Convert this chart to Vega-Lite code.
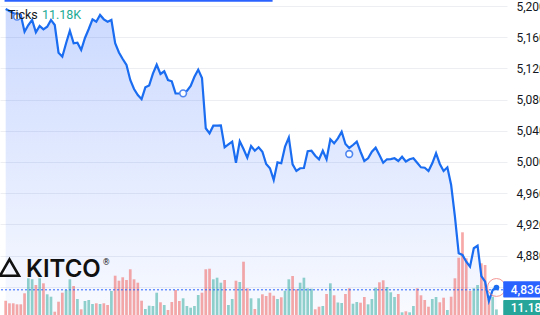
{
  "$schema": "https://vega.github.io/schema/vega-lite/v6.json",
  "width": 507,
  "height": 315,
  "autosize": {"type": "none"},
  "padding": {"left": 0, "top": 0, "right": 33, "bottom": 0},
  "background": "white",
  "config": {"view": {"stroke": null}, "font": "Roboto"},
  "datasets": {
    "ticks": [
      {"i":0,"price":5196.2,"vol":28.6,"dir":"d"},
      {"i":1,"price":5193.6,"vol":23.4,"dir":"d"},
      {"i":2,"price":5191.0,"vol":23.4,"dir":"d"},
      {"i":3,"price":5189.1,"vol":21.4,"dir":"d"},
      {"i":4,"price":5188.5,"vol":21.4,"dir":"d"},
      {"i":5,"price":5167.0,"vol":43.4,"dir":"d"},
      {"i":6,"price":5175.6,"vol":73.4,"dir":"u"},
      {"i":7,"price":5182.1,"vol":71.4,"dir":"u"},
      {"i":8,"price":5166.3,"vol":60,"dir":"d"},
      {"i":9,"price":5174.4,"vol":73.4,"dir":"u"},
      {"i":10,"price":5170.1,"vol":63.4,"dir":"d"},
      {"i":11,"price":5173.5,"vol":41.4,"dir":"u"},
      {"i":12,"price":5182.1,"vol":36.6,"dir":"u"},
      {"i":13,"price":5175.6,"vol":6.6,"dir":"d"},
      {"i":14,"price":5140.1,"vol":26.6,"dir":"d"},
      {"i":15,"price":5135.0,"vol":44.6,"dir":"d"},
      {"i":16,"price":5152.2,"vol":50,"dir":"u"},
      {"i":17,"price":5168.3,"vol":71.4,"dir":"u"},
      {"i":18,"price":5152.2,"vol":58,"dir":"d"},
      {"i":19,"price":5152.9,"vol":32,"dir":"u"},
      {"i":20,"price":5143.6,"vol":11.4,"dir":"d"},
      {"i":21,"price":5159.0,"vol":28,"dir":"u"},
      {"i":22,"price":5170.5,"vol":30,"dir":"u"},
      {"i":23,"price":5182.9,"vol":22,"dir":"u"},
      {"i":24,"price":5179.9,"vol":23.4,"dir":"d"},
      {"i":25,"price":5188.5,"vol":22,"dir":"u"},
      {"i":26,"price":5182.9,"vol":23.4,"dir":"d"},
      {"i":27,"price":5179.9,"vol":20,"dir":"d"},
      {"i":28,"price":5182.1,"vol":48,"dir":"u"},
      {"i":29,"price":5152.2,"vol":78.6,"dir":"d"},
      {"i":30,"price":5140.4,"vol":68.6,"dir":"d"},
      {"i":31,"price":5132.0,"vol":75.4,"dir":"d"},
      {"i":32,"price":5124.3,"vol":70,"dir":"d"},
      {"i":33,"price":5105.1,"vol":91.4,"dir":"d"},
      {"i":34,"price":5093.6,"vol":71.4,"dir":"d"},
      {"i":35,"price":5085.9,"vol":64.6,"dir":"d"},
      {"i":36,"price":5080.5,"vol":28.6,"dir":"d"},
      {"i":37,"price":5095.7,"vol":12,"dir":"u"},
      {"i":38,"price":5098.0,"vol":18.6,"dir":"u"},
      {"i":39,"price":5113.2,"vol":18,"dir":"u"},
      {"i":40,"price":5124.7,"vol":44.6,"dir":"u"},
      {"i":41,"price":5112.8,"vol":25.4,"dir":"d"},
      {"i":42,"price":5116.3,"vol":20,"dir":"u"},
      {"i":43,"price":5105.1,"vol":10,"dir":"d"},
      {"i":44,"price":5103.4,"vol":26,"dir":"d"},
      {"i":45,"price":5088.0,"vol":50,"dir":"d"},
      {"i":46,"price":5087.8,"vol":28,"dir":"d"},
      {"i":47,"price":5088.0,"vol":33.4,"dir":"u"},
      {"i":48,"price":5091.0,"vol":18,"dir":"u"},
      {"i":49,"price":5097.4,"vol":14.6,"dir":"u"},
      {"i":50,"price":5109.3,"vol":18,"dir":"u"},
      {"i":51,"price":5118.4,"vol":40,"dir":"u"},
      {"i":52,"price":5107.7,"vol":44.6,"dir":"d"},
      {"i":53,"price":5043.2,"vol":91.4,"dir":"d"},
      {"i":54,"price":5036.7,"vol":92.6,"dir":"d"},
      {"i":55,"price":5046.5,"vol":71.4,"dir":"u"},
      {"i":56,"price":5046.6,"vol":74.6,"dir":"u"},
      {"i":57,"price":5046.9,"vol":64.6,"dir":"u"},
      {"i":58,"price":5018.8,"vol":70,"dir":"d"},
      {"i":59,"price":5022.4,"vol":20,"dir":"u"},
      {"i":60,"price":5026.0,"vol":32,"dir":"u"},
      {"i":61,"price":4999.0,"vol":68.6,"dir":"d"},
      {"i":62,"price":5026.5,"vol":66,"dir":"u"},
      {"i":63,"price":5016.6,"vol":106.6,"dir":"d"},
      {"i":64,"price":5005.5,"vol":53.4,"dir":"d"},
      {"i":65,"price":5020.5,"vol":33.4,"dir":"u"},
      {"i":66,"price":5014.4,"vol":12,"dir":"d"},
      {"i":67,"price":5018.8,"vol":33.4,"dir":"u"},
      {"i":68,"price":5013.1,"vol":41.4,"dir":"d"},
      {"i":69,"price":4997.4,"vol":38,"dir":"d"},
      {"i":70,"price":4991.9,"vol":44.6,"dir":"d"},
      {"i":71,"price":4976.9,"vol":38.6,"dir":"d"},
      {"i":72,"price":4999.5,"vol":32,"dir":"u"},
      {"i":73,"price":4998.3,"vol":35.4,"dir":"d"},
      {"i":74,"price":5019.6,"vol":48.6,"dir":"u"},
      {"i":75,"price":5031.1,"vol":71.4,"dir":"u"},
      {"i":76,"price":4997.0,"vol":78,"dir":"d"},
      {"i":77,"price":4988.4,"vol":51.4,"dir":"d"},
      {"i":78,"price":4991.9,"vol":64.6,"dir":"u"},
      {"i":79,"price":4992.2,"vol":74.6,"dir":"u"},
      {"i":80,"price":5013.7,"vol":53.4,"dir":"u"},
      {"i":81,"price":5014.4,"vol":52.6,"dir":"u"},
      {"i":82,"price":5008.0,"vol":11.4,"dir":"d"},
      {"i":83,"price":5003.4,"vol":16.6,"dir":"d"},
      {"i":84,"price":5014.4,"vol":18,"dir":"u"},
      {"i":85,"price":5003.4,"vol":42,"dir":"d"},
      {"i":86,"price":5029.1,"vol":63.4,"dir":"u"},
      {"i":87,"price":5023.9,"vol":39.4,"dir":"d"},
      {"i":88,"price":5030.3,"vol":25,"dir":"u"},
      {"i":89,"price":5038.8,"vol":24,"dir":"u"},
      {"i":90,"price":5023.0,"vol":42,"dir":"d"},
      {"i":91,"price":5017.9,"vol":53.4,"dir":"d"},
      {"i":92,"price":5021.7,"vol":22.6,"dir":"u"},
      {"i":93,"price":5026.0,"vol":26,"dir":"u"},
      {"i":94,"price":5013.1,"vol":24.6,"dir":"d"},
      {"i":95,"price":5001.2,"vol":36,"dir":"d"},
      {"i":96,"price":5004.7,"vol":21.4,"dir":"u"},
      {"i":97,"price":5013.1,"vol":32,"dir":"u"},
      {"i":98,"price":5018.3,"vol":54.6,"dir":"u"},
      {"i":99,"price":5008.9,"vol":65.4,"dir":"d"},
      {"i":100,"price":4999.0,"vol":69.4,"dir":"d"},
      {"i":101,"price":5003.4,"vol":56,"dir":"u"},
      {"i":102,"price":5003.6,"vol":45.4,"dir":"u"},
      {"i":103,"price":5004.7,"vol":36,"dir":"u"},
      {"i":104,"price":5001.2,"vol":42,"dir":"d"},
      {"i":105,"price":5006.7,"vol":5.4,"dir":"u"},
      {"i":106,"price":5000.6,"vol":7.4,"dir":"d"},
      {"i":107,"price":5003.4,"vol":5.4,"dir":"u"},
      {"i":108,"price":5004.7,"vol":18,"dir":"u"},
      {"i":109,"price":4999.0,"vol":53.4,"dir":"d"},
      {"i":110,"price":4993.1,"vol":39.4,"dir":"d"},
      {"i":111,"price":4992.6,"vol":30,"dir":"d"},
      {"i":112,"price":4988.4,"vol":16.6,"dir":"d"},
      {"i":113,"price":4998.3,"vol":32,"dir":"u"},
      {"i":114,"price":5011.1,"vol":36,"dir":"u"},
      {"i":115,"price":4997.4,"vol":25.4,"dir":"d"},
      {"i":116,"price":4988.4,"vol":34.6,"dir":"d"},
      {"i":117,"price":4993.1,"vol":10,"dir":"u"},
      {"i":118,"price":4970.4,"vol":36.6,"dir":"d"},
      {"i":119,"price":4929.8,"vol":73.4,"dir":"d"},
      {"i":120,"price":4882.8,"vol":114.6,"dir":"d"},
      {"i":121,"price":4880.7,"vol":165.4,"dir":"d"},
      {"i":122,"price":4872.1,"vol":113.4,"dir":"d"},
      {"i":123,"price":4865.7,"vol":48,"dir":"d"},
      {"i":124,"price":4889.3,"vol":53.4,"dir":"u"},
      {"i":125,"price":4892.6,"vol":60,"dir":"u"},
      {"i":126,"price":4853.7,"vol":103.4,"dir":"d"},
      {"i":127,"price":4846.4,"vol":100,"dir":"d"},
      {"i":128,"price":4821.7,"vol":32,"dir":"d"},
      {"i":129,"price":4835.8,"vol":36.6,"dir":"u"},
      {"i":130,"price":4839.0,"vol":11.18,"dir":"u"}
    ],
    "events": [
      {"i":3,"price":5186.3},
      {"i":47,"price":5088.0},
      {"i":91,"price":5010.2}
    ],
    "last": [
      {"i":130,"price":4839.0,"close":4836,"vol":11.18,"volText":"11.18K"}
    ]
  },
  "resolve": {"scale": {"y": "independent"}},
  "layer": [
    {
      "data": {"name": "ticks"},
      "mark": {
        "type": "area",
        "line": false,
        "color": {
          "gradient": "linear", "x1": 1, "x2": 1, "y1": 0, "y2": 1,
          "stops": [
            {"offset": 0, "color": "rgba(41,98,255,0.24)"},
            {"offset": 1, "color": "rgba(41,98,255,0.03)"}
          ]
        }
      },
      "encoding": {
        "x": {
          "field": "i", "type": "quantitative",
          "scale": {"domain": [-0.182, 131.47], "nice": false, "zero": false},
          "axis": {
            "orient": "bottom", "values": [20.15, 43.5, 60, 89, 112.2],
            "grid": true, "gridColor": "#eceef2", "labels": false,
            "ticks": false, "domain": false, "title": null
          }
        },
        "y": {
          "field": "price", "type": "quantitative",
          "scale": {"domain": [4803.7, 5207.7], "nice": false, "zero": false},
          "axis": {
            "orient": "right",
            "values": [4840, 4880, 4920, 4960, 5000, 5040, 5080, 5120, 5160, 5200],
            "format": ",.0f",
            "labelExpr": "datum.value == 4840 ? '' : datum.label",
            "grid": true, "gridColor": "#eceef2", "domain": false, "ticks": false,
            "labelPadding": 9, "labelFontSize": 12, "labelColor": "#131722",
            "labelFont": "Roboto", "labelOverlap": false, "labelFlush": false,
            "labelBound": false, "title": null
          }
        },
        "y2": {"datum": 4803.7}
      }
    },
    {
      "data": {"name": "ticks"},
      "mark": {"type": "bar", "width": 2.7, "opacity": 0.5, "orient": "vertical"},
      "encoding": {
        "x": {"field": "i", "type": "quantitative", "scale": {"domain": [-0.182, 131.47], "nice": false, "zero": false}, "axis": null},
        "y": {"field": "vol", "type": "quantitative", "stack": null, "scale": {"domain": [0, 630], "nice": false}, "axis": null},
        "color": {"field": "dir", "type": "nominal", "scale": {"domain": ["u", "d"], "range": ["#26a69a", "#ef5350"]}, "legend": null}
      }
    },
    {
      "layer": [
        {
          "data": {"name": "last"},
          "mark": {"type": "rule", "color": "#2962ff", "strokeWidth": 1, "strokeDash": [2, 2]},
          "encoding": {
            "y": {"field": "close", "type": "quantitative", "scale": {"domain": [4803.7, 5207.7], "nice": false, "zero": false}, "axis": null}
          }
        },
        {
          "data": {"name": "ticks"},
          "mark": {"type": "line", "color": "#1a6cf0", "strokeWidth": 2.2},
          "encoding": {
            "x": {"field": "i", "type": "quantitative", "scale": {"domain": [-0.182, 131.47], "nice": false, "zero": false}, "axis": null},
            "y": {"field": "price", "type": "quantitative", "axis": null}
          }
        },
        {
          "data": {"name": "events"},
          "mark": {"type": "point", "filled": false, "fill": "white", "stroke": "#4f86f0", "strokeWidth": 1.6, "size": 45, "opacity": 1},
          "encoding": {
            "x": {"field": "i", "type": "quantitative"},
            "y": {"field": "price", "type": "quantitative"}
          }
        },
        {
          "data": {"name": "last"},
          "mark": {"type": "point", "filled": false, "stroke": "#f27c7c", "strokeWidth": 1, "size": 320, "opacity": 0.8},
          "encoding": {
            "x": {"field": "i", "type": "quantitative"},
            "y": {"field": "price", "type": "quantitative"}
          }
        },
        {
          "data": {"name": "last"},
          "mark": {"type": "point", "filled": true, "color": "#1a6cf0", "size": 32, "opacity": 1},
          "encoding": {
            "x": {"field": "i", "type": "quantitative"},
            "y": {"field": "price", "type": "quantitative"}
          }
        },
        {
          "data": {"name": "last"},
          "mark": {"type": "point", "shape": "triangle-up", "filled": false, "stroke": "#111111", "strokeWidth": 2.6, "size": 360, "opacity": 1},
          "encoding": {
            "x": {"datum": 1.0, "type": "quantitative"},
            "y": {"datum": 4864.5, "type": "quantitative"}
          }
        },
        {
          "data": {"name": "last"},
          "mark": {"type": "text", "text": "KITCO", "font": "Inter", "fontSize": 24, "fontWeight": 600, "color": "#111111", "align": "left", "baseline": "alphabetic"},
          "encoding": {
            "x": {"datum": 5.4, "type": "quantitative"},
            "y": {"datum": 4852.1, "type": "quantitative"}
          }
        },
        {
          "data": {"name": "last"},
          "mark": {"type": "text", "text": "®", "font": "DejaVu Sans", "fontSize": 8, "color": "#111111", "align": "left", "baseline": "middle"},
          "encoding": {
            "x": {"datum": 25.6, "type": "quantitative"},
            "y": {"datum": 4870.4, "type": "quantitative"}
          }
        },
        {
          "data": {"name": "last"},
          "mark": {"type": "text", "text": "Ticks", "font": "Roboto", "fontSize": 12.5, "color": "#131722", "align": "left", "baseline": "middle"},
          "encoding": {
            "x": {"datum": 0.6, "type": "quantitative"},
            "y": {"datum": 5188.5, "type": "quantitative"}
          }
        },
        {
          "data": {"name": "last"},
          "mark": {"type": "text", "font": "Roboto", "fontSize": 12.5, "color": "#22ab94", "align": "left", "baseline": "middle"},
          "encoding": {
            "x": {"datum": 9.6, "type": "quantitative"},
            "y": {"datum": 5188.5, "type": "quantitative"},
            "text": {"field": "volText"}
          }
        },
        {
          "data": {"name": "last"},
          "mark": {"type": "rule", "color": "#2962ff", "strokeWidth": 1.6},
          "encoding": {
            "x": {"datum": -0.3, "type": "quantitative"},
            "x2": {"datum": 70.7},
            "y": {"datum": 5206.6, "type": "quantitative"}
          }
        },
        {
          "data": {"name": "last"},
          "mark": {"type": "rect", "color": "#2962ff", "cornerRadius": 1},
          "encoding": {
            "x": {"datum": 131.8, "type": "quantitative"},
            "x2": {"datum": 145},
            "y": {"datum": 4847.0, "type": "quantitative"},
            "y2": {"datum": 4826.0}
          }
        },
        {
          "data": {"name": "last"},
          "mark": {"type": "text", "font": "Roboto", "fontSize": 12, "fontWeight": 500, "color": "white", "align": "left", "baseline": "middle"},
          "encoding": {
            "x": {"datum": 133.8, "type": "quantitative"},
            "y": {"field": "close", "type": "quantitative"},
            "text": {"field": "close", "type": "quantitative", "format": ",.0f"}
          }
        },
        {
          "data": {"name": "last"},
          "mark": {"type": "rect", "color": "#26a69a", "cornerRadius": 1},
          "encoding": {
            "x": {"datum": 131.8, "type": "quantitative"},
            "x2": {"datum": 145},
            "y": {"datum": 4823.0, "type": "quantitative"},
            "y2": {"datum": 4800.0}
          }
        },
        {
          "data": {"name": "last"},
          "mark": {"type": "text", "font": "Roboto", "fontSize": 12, "fontWeight": 500, "color": "white", "align": "left", "baseline": "middle"},
          "encoding": {
            "x": {"datum": 133.8, "type": "quantitative"},
            "y": {"datum": 4813.0, "type": "quantitative"},
            "text": {"field": "volText"}
          }
        }
      ]
    }
  ]
}
